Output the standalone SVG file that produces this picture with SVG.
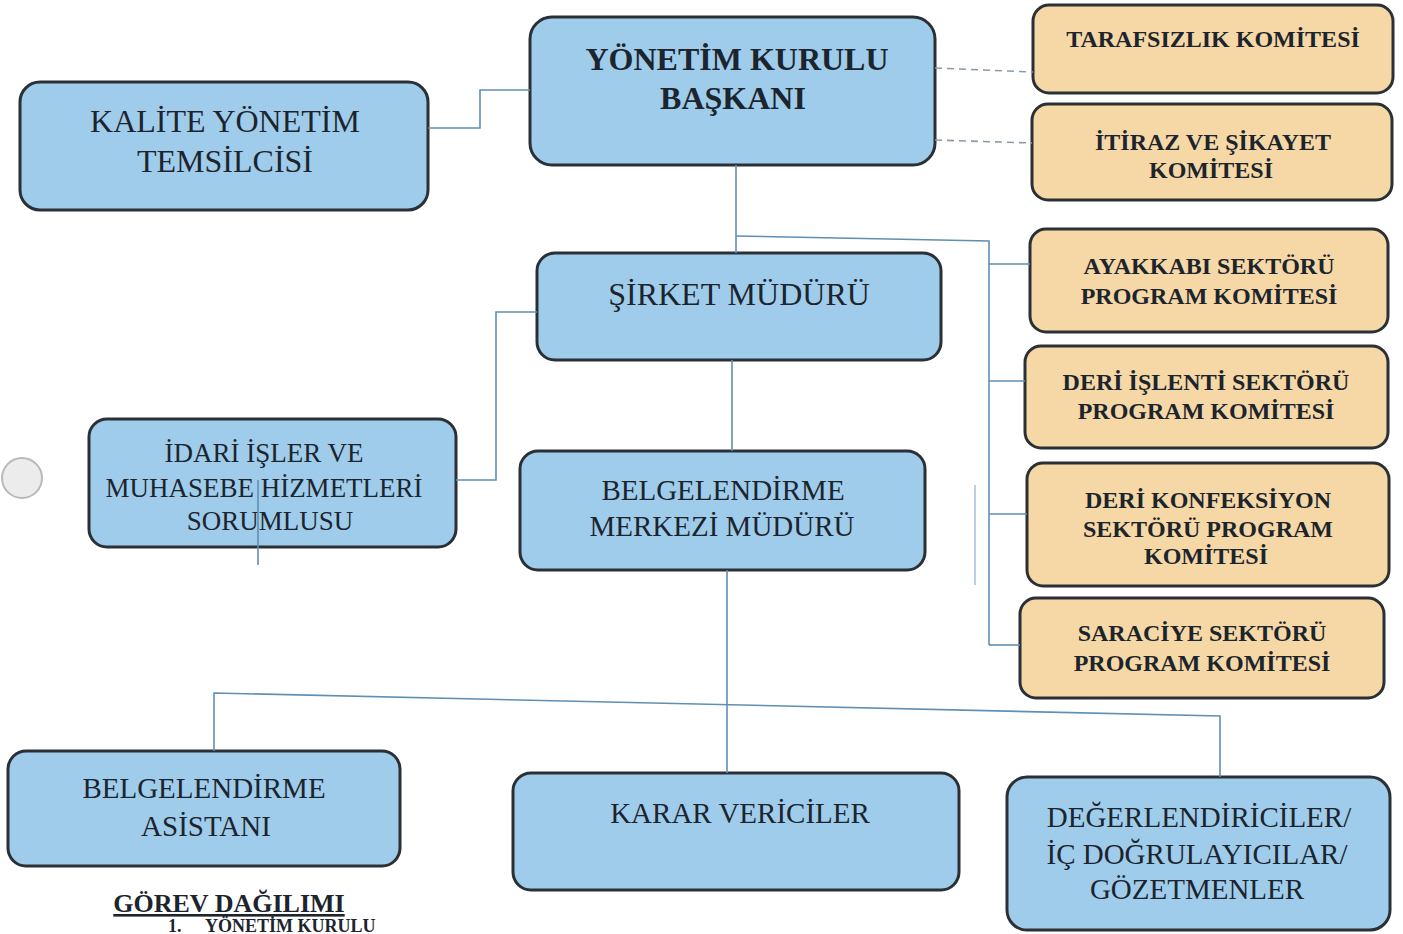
<svg xmlns="http://www.w3.org/2000/svg" width="1403" height="934" viewBox="0 0 1403 934">
<style>
.blue{fill:#a0ccec;stroke:#2a3035;stroke-width:3}
.tan{fill:#f6d8a6;stroke:#2a3035;stroke-width:3}
.t{font-family:"Liberation Serif","Times New Roman",serif;fill:#1c252d;text-anchor:middle}
.b{font-weight:bold}
.c{fill:none;stroke:#5f8fb5;stroke-width:1.6}
.f{fill:none;stroke:#8fb0cc;stroke-width:1.2}
.d{fill:none;stroke:#8c9aa6;stroke-width:1.6;stroke-dasharray:7 5}
</style>
<rect width="1403" height="934" fill="#ffffff"/>

<g id="node-ykb">
<rect class="blue" x="530" y="17" width="405" height="148" rx="22"/>
<text class="t b" font-size="32" x="737" y="70">YÖNETİM KURULU</text>
<text class="t b" font-size="32" x="733" y="109">BAŞKANI</text>
</g>
<g id="node-kalite">
<rect class="blue" x="20" y="82" width="408" height="128" rx="20"/>
<text class="t" font-size="32" x="225" y="132">KALİTE YÖNETİM</text>
<text class="t" font-size="32" x="225" y="172">TEMSİLCİSİ</text>
</g>
<g id="node-tarafsizlik">
<rect class="tan" x="1033" y="5" width="360" height="88" rx="16"/>
<text class="t b" font-size="24" x="1213" y="47">TARAFSIZLIK KOMİTESİ</text>
</g>
<g id="node-itiraz">
<rect class="tan" x="1032" y="104" width="360" height="96" rx="16"/>
<text class="t b" font-size="24" x="1213" y="150">İTİRAZ VE ŞİKAYET</text>
<text class="t b" font-size="24" x="1211" y="178">KOMİTESİ</text>
</g>
<g id="node-ayakkabi">
<rect class="tan" x="1030" y="229" width="358" height="103" rx="16"/>
<text class="t b" font-size="24" x="1209" y="274">AYAKKABI SEKTÖRÜ</text>
<text class="t b" font-size="24" x="1209" y="304">PROGRAM KOMİTESİ</text>
</g>
<g id="node-deri-islenti">
<rect class="tan" x="1025" y="346" width="363" height="102" rx="16"/>
<text class="t b" font-size="24" x="1206" y="390">DERİ İŞLENTİ SEKTÖRÜ</text>
<text class="t b" font-size="24" x="1206" y="419">PROGRAM KOMİTESİ</text>
</g>
<g id="node-deri-konfeksiyon">
<rect class="tan" x="1027" y="463" width="362" height="123" rx="16"/>
<text class="t b" font-size="24" x="1208" y="508">DERİ KONFEKSİYON</text>
<text class="t b" font-size="24" x="1208" y="537">SEKTÖRÜ PROGRAM</text>
<text class="t b" font-size="24" x="1206" y="564">KOMİTESİ</text>
</g>
<g id="node-saraciye">
<rect class="tan" x="1020" y="598" width="364" height="100" rx="16"/>
<text class="t b" font-size="24" x="1202" y="641">SARACİYE SEKTÖRÜ</text>
<text class="t b" font-size="24" x="1202" y="671">PROGRAM KOMİTESİ</text>
</g>
<g id="node-sirket">
<rect class="blue" x="537" y="253" width="404" height="107" rx="18"/>
<text class="t" font-size="32" x="739" y="305">ŞİRKET MÜDÜRÜ</text>
</g>
<g id="node-idari">
<rect class="blue" x="89" y="419" width="367" height="128" rx="18"/>
<text class="t" font-size="27" x="264" y="462">İDARİ İŞLER VE</text>
<text class="t" font-size="27" x="264" y="497">MUHASEBE HİZMETLERİ</text>
<text class="t" font-size="27" x="270" y="530">SORUMLUSU</text>
</g>
<g id="node-bmm">
<rect class="blue" x="520" y="451" width="405" height="119" rx="18"/>
<text class="t" font-size="29" x="723" y="500">BELGELENDİRME</text>
<text class="t" font-size="29" x="722" y="536">MERKEZİ MÜDÜRÜ</text>
</g>
<g id="node-asistan">
<rect class="blue" x="8" y="751" width="392" height="115" rx="18"/>
<text class="t" font-size="29" x="204" y="798">BELGELENDİRME</text>
<text class="t" font-size="29" x="206" y="836">ASİSTANI</text>
</g>
<g id="node-karar">
<rect class="blue" x="513" y="773" width="446" height="117" rx="18"/>
<text class="t" font-size="29" x="740" y="823">KARAR VERİCİLER</text>
</g>
<g id="node-degerlendiriciler">
<rect class="blue" x="1007" y="777" width="383" height="153" rx="20"/>
<text class="t" font-size="29" x="1199" y="827">DEĞERLENDİRİCİLER/</text>
<text class="t" font-size="29" x="1197" y="864">İÇ DOĞRULAYICILAR/</text>
<text class="t" font-size="29" x="1197" y="899">GÖZETMENLER</text>
</g>

<g id="connectors">
<path class="c" d="M428,128 H480 V90 H530"/>
<path class="d" d="M935,68 L1033,72"/>
<path class="d" d="M935,140 L1032,143"/>
<path class="c" d="M736,165 V253"/>
<path class="c" d="M736,236 L989,241 V645"/>
<path class="c" d="M989,264 H1030"/>
<path class="c" d="M989,381 H1025"/>
<path class="c" d="M989,514 H1027"/>
<path class="c" d="M989,645 H1020"/>
<path class="c" d="M537,312 H496 V480 H456"/>
<path class="c" d="M732,360 V451"/>
<path class="c" d="M727,570 V773"/>
<path class="c" d="M214,751 V693 L1220,716 V777"/>
<path class="c" d="M258,480 V565"/>
<path class="f" d="M975,485 V585"/>
</g>

<circle cx="22" cy="478" r="20" fill="#ececec" stroke="#b9b9b9" stroke-width="2"/>
<text class="t b" font-size="26" x="229" y="912" text-decoration="underline">GÖREV DAĞILIMI</text>
<text class="t b" font-size="18" x="168" y="932" style="text-anchor:start">1.</text>
<text class="t b" font-size="18" x="205" y="932" style="text-anchor:start">YÖNETİM KURULU</text>
</svg>
